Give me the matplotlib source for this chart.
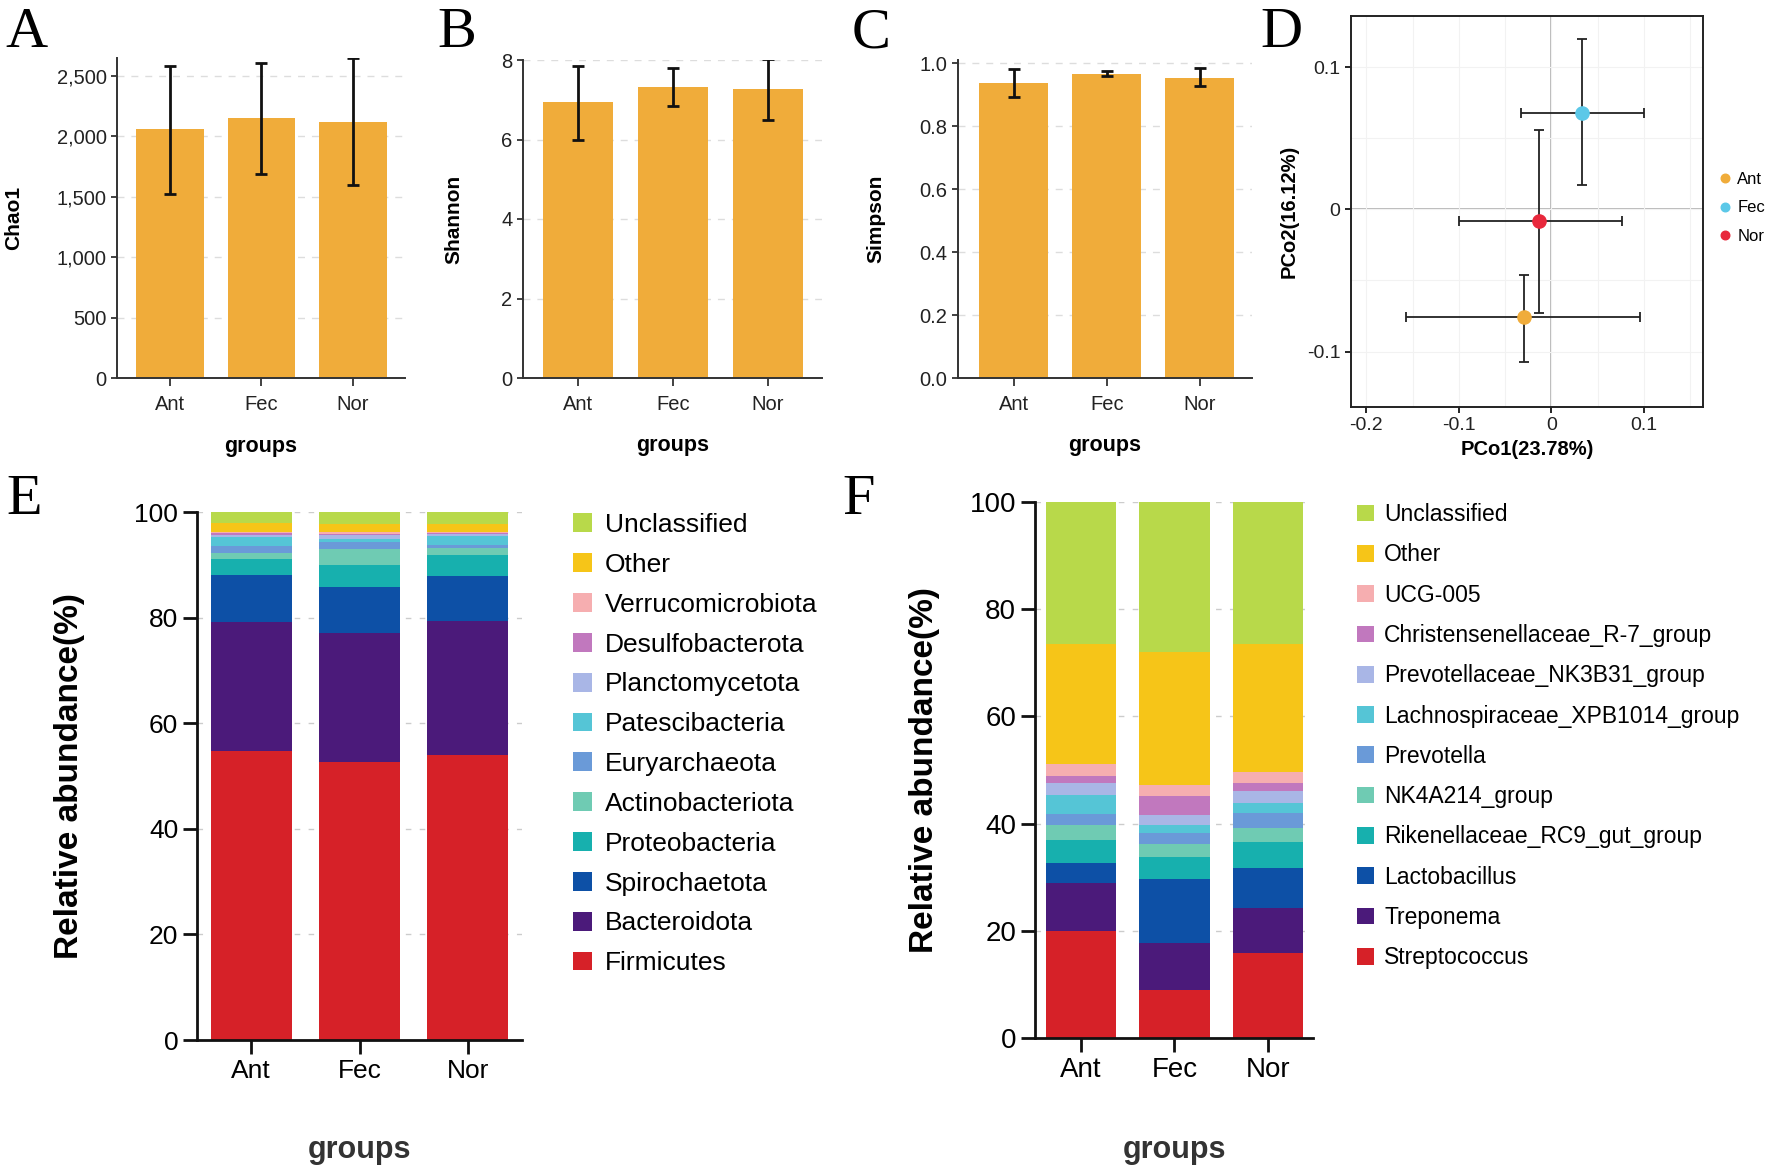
import matplotlib
matplotlib.use("Agg")
import matplotlib.pyplot as plt
import numpy as np

plt.rcParams['font.family'] = ['Liberation Sans', 'DejaVu Sans']

W, H = 1772, 1169

groups = ["Ant", "Fec", "Nor"]

# Alpha diversity
chao1 = [2055, 2145, 2120]
chao1_lo = [1525, 1690, 1595]
chao1_hi = [2580, 2600, 2645]
shannon = [6.95, 7.33, 7.27]
shannon_lo = [6.0, 6.84, 6.50]
shannon_hi = [7.86, 7.81, 8.03]
simpson = [0.937, 0.966, 0.954]
simpson_lo = [0.893, 0.960, 0.929]
simpson_hi = [0.980, 0.974, 0.985]

# PCoA
pco1 = [-0.030, 0.033, -0.013]
pco1_lo = [-0.157, -0.033, -0.100]
pco1_hi = [0.096, 0.100, 0.076]
pco2 = [-0.076, 0.068, -0.008]
pco2_lo = [-0.107, 0.017, -0.073]
pco2_hi = [-0.046, 0.120, 0.056]
pcoa_colors = ["#f0ac3a", "#5bc8e8", "#e8283c"]

# Phylum level (bottom to top)
phyla = ["Firmicutes", "Bacteroidota", "Spirochaetota", "Proteobacteria",
         "Actinobacteriota", "Euryarchaeota", "Patescibacteria", "Planctomycetota",
         "Desulfobacterota", "Verrucomicrobiota", "Other", "Unclassified"]
phylum_ant = [54.8, 24.4, 8.85, 3.05, 1.2, 1.2, 1.8, 0.4, 0.3, 0.2, 1.7, 2.1]
phylum_fec = [52.6, 24.4, 8.85, 4.2, 2.85, 1.4, 0.6, 0.7, 0.3, 0.3, 1.6, 2.2]
phylum_nor = [53.9, 25.5, 8.5, 3.9, 1.4, 0.5, 1.7, 0.5, 0.2, 0.2, 1.5, 2.2]

# Genus level (bottom to top)
genera = ["Streptococcus", "Treponema", "Lactobacillus", "Rikenellaceae_RC9_gut_group",
          "NK4A214_group", "Prevotella", "Lachnospiraceae_XPB1014_group",
          "Prevotellaceae_NK3B31_group", "Christensenellaceae_R-7_group", "UCG-005",
          "Other", "Unclassified"]
genus_ant = [19.9, 9.0, 3.7, 4.35, 2.8, 1.95, 3.6, 2.3, 1.3, 2.2, 22.5, 26.4]
genus_fec = [9.0, 8.7, 12.0, 4.0, 2.5, 2.0, 1.55, 1.85, 3.6, 2.0, 24.85, 27.95]
genus_nor = [15.8, 8.4, 7.5, 4.8, 2.6, 2.8, 1.9, 2.3, 1.5, 2.1, 23.9, 26.4]

stack_colors = ["#d62128", "#4b1a7a", "#0d50a6", "#17b0ae", "#6fcbb3", "#6a9ad8",
                "#55c5d6", "#a9b6e6", "#c178be", "#f6aeb0", "#f6c518", "#b8d94a"]

bar_color = "#f0ac3a"

fig = plt.figure(figsize=(W / 100, H / 100), dpi=100)


def axes_px(left, top, right, bottom):
    return fig.add_axes([left / W, 1 - bottom / H, (right - left) / W, (bottom - top) / H])


def style_alpha(ax, ylabel, ylabel_x):
    for s in ["top", "right"]:
        ax.spines[s].set_visible(False)
    for s in ["left", "bottom"]:
        ax.spines[s].set_color("#333333")
        ax.spines[s].set_linewidth(1.4)
    ax.tick_params(axis="both", labelsize=14.5, color="#333333", width=1.3, labelcolor="#222222")
    ax.tick_params(axis="x", length=6, pad=6)
    ax.tick_params(axis="y", length=4)
    ax.yaxis.grid(True, linestyle=(0, (5, 5)), color="#dddddd", linewidth=1)
    ax.set_axisbelow(True)
    ax.set_ylabel(ylabel, fontsize=15, fontweight="bold")
    ax.yaxis.set_label_coords(ylabel_x, 0.5)
    ax.set_xlabel("groups", fontsize=15.5, fontweight="bold")
    ax.xaxis.set_label_coords(0.5, -0.18)


def alpha_panel(ax, vals, lo, hi):
    x = np.arange(len(groups))
    vals = np.array(vals)
    err = [vals - np.array(lo), np.array(hi) - vals]
    ax.bar(x, vals, width=0.74, color=bar_color, zorder=2)
    ax.errorbar(x, vals, yerr=err, fmt="none", ecolor="#111111", elinewidth=2,
                capsize=4, capthick=2, zorder=3)
    ax.set_xticks(x)
    ax.set_xticklabels(groups)


# Panel A
axA = axes_px(117, 58, 405, 378)
alpha_panel(axA, chao1, chao1_lo, chao1_hi)
axA.set_xlim(-0.58, 2.57)
axA.set_ylim(0, 2645)
axA.set_yticks([0, 500, 1000, 1500, 2000, 2500])
axA.set_yticklabels(["0", "500", "1,000", "1,500", "2,000", "2,500"])
style_alpha(axA, "Chao1", -0.326)

# Panel B
axB = axes_px(523, 60, 822, 378)
alpha_panel(axB, shannon, shannon_lo, shannon_hi)
axB.set_xlim(-0.58, 2.57)
axB.set_ylim(0, 8.0)
axB.set_yticks([0, 2, 4, 6, 8])
style_alpha(axB, "Shannon", -0.2)

# Panel C
axC = axes_px(958, 60, 1252, 378)
alpha_panel(axC, simpson, simpson_lo, simpson_hi)
axC.set_xlim(-0.6, 2.56)
axC.set_ylim(0, 1.01)
axC.set_yticks([0, 0.2, 0.4, 0.6, 0.8, 1.0])
axC.set_yticklabels(["0.0", "0.2", "0.4", "0.6", "0.8", "1.0"])
style_alpha(axC, "Simpson", -0.248)

# Panel D
axD = axes_px(1351, 16, 1703, 407)
axD.set_xlim(-0.2166, 0.164)
axD.set_ylim(-0.139, 0.136)
axD.set_xticks([-0.2, -0.1, 0, 0.1])
axD.set_xticklabels(["-0.2", "-0.1", "0", "0.1"])
axD.set_yticks([-0.1, 0, 0.1])
axD.set_yticklabels(["-0.1", "0", "0.1"])
axD.set_xticks([-0.15, -0.05, 0.05, 0.15], minor=True)
axD.set_yticks([-0.05, 0.05], minor=True)
axD.grid(True, which="both", color="#f2f2f2", linewidth=0.8)
axD.axhline(0, color="#b5b5b5", linewidth=1.3, zorder=1)
axD.axvline(0, color="#b5b5b5", linewidth=1.3, zorder=1)
for i, g in enumerate(groups):
    axD.errorbar(pco1[i], pco2[i],
                 xerr=[[pco1[i] - pco1_lo[i]], [pco1_hi[i] - pco1[i]]],
                 yerr=[[pco2[i] - pco2_lo[i]], [pco2_hi[i] - pco2[i]]],
                 fmt="none", ecolor="#222222", elinewidth=1.3, capsize=3.5, capthick=1.3, zorder=2)
d_handles = []
for i, g in enumerate(groups):
    h, = axD.plot(pco1[i], pco2[i], "o", color=pcoa_colors[i], markersize=9.5, zorder=3, label=g)
    d_handles.append(h)
for s in axD.spines.values():
    s.set_linewidth(1.4)
    s.set_color("#222222")
axD.tick_params(axis="both", which="major", labelsize=14, length=4, width=1.2, labelcolor="#222222")
axD.tick_params(axis="both", which="minor", length=0)
axD.set_xlabel("PCo1(23.78%)", fontsize=14.5, fontweight="bold", labelpad=4)
axD.set_ylabel("PCo2(16.12%)", fontsize=14.5, fontweight="bold", labelpad=6)
fig.legend(d_handles, groups, loc="upper left", bbox_to_anchor=(1718 / W, 1 - 172 / H),
           bbox_transform=fig.transFigure, frameon=False, fontsize=12,
           handlelength=0.8, handletextpad=0.35, labelspacing=0.8,
           borderpad=0, borderaxespad=0, markerscale=0.65)


def stack_panel(ax, data, names, legend_anchor, hl, htp, ls, fs, lfs):
    x = np.arange(len(groups))
    data = np.array(data)  # groups x taxa
    bottom = np.zeros(len(groups))
    handles = []
    for j, name in enumerate(names):
        b = ax.bar(x, data[:, j], width=0.75, bottom=bottom, color=stack_colors[j],
                   label=name, zorder=2, edgecolor="none")
        handles.append(b)
        bottom += data[:, j]
    ax.set_xticks(x)
    ax.set_xticklabels(groups)
    ax.set_ylim(0, 100)
    ax.set_yticks([0, 20, 40, 60, 80, 100])
    ax.yaxis.grid(True, linestyle=(0, (4, 6)), color="#cccccc", linewidth=1)
    ax.set_axisbelow(True)
    for s in ["top", "right"]:
        ax.spines[s].set_visible(False)
    for s in ["left", "bottom"]:
        ax.spines[s].set_linewidth(2)
        ax.spines[s].set_color("#111111")
    ax.tick_params(axis="both", labelsize=fs, width=2, length=10, color="#111111")
    ax.set_ylabel("Relative abundance(%)", fontsize=24, fontweight="bold")
    ax.set_xlabel("groups", fontsize=22, fontweight="bold", color="#333333")
    fig.legend(handles[::-1], names[::-1], loc="upper left", bbox_to_anchor=legend_anchor,
               bbox_transform=fig.transFigure, frameon=False, fontsize=lfs,
               handlelength=hl, handleheight=hl, handletextpad=htp, labelspacing=ls,
               borderpad=0, borderaxespad=0)


# Panel E
axE = axes_px(197, 512, 522, 1040)
stack_panel(axE, [phylum_ant, phylum_fec, phylum_nor], phyla,
            (573 / W, 1 - 513 / H), 0.72, 0.5, 0.60, 19, 19)
axE.set_xlim(-0.5, 2.5)
axE.yaxis.set_label_coords(-0.345, 0.5)
axE.xaxis.set_label_coords(0.5, -0.18)

# Panel F
axF = axes_px(1035, 502, 1313, 1038)
stack_panel(axF, [genus_ant, genus_fec, genus_nor], genera,
            (1357 / W, 1 - 503 / H), 0.74, 0.44, 0.755, 20, 16.5)
axF.set_xlim(-0.49, 2.48)
axF.yaxis.set_label_coords(-0.342, 0.5)
axF.xaxis.set_label_coords(0.5, -0.181)

# Panel letters
letters = [("A", 5, 47), ("B", 437, 47), ("C", 852, 47), ("D", 1260, 47),
           ("E", 6, 514), ("F", 842, 514)]
for t, x, y in letters:
    fig.text(x / W, 1 - y / H, t, fontsize=42, family="Liberation Serif",
             ha="left", va="baseline")

fig.savefig("out.png", dpi=100)
